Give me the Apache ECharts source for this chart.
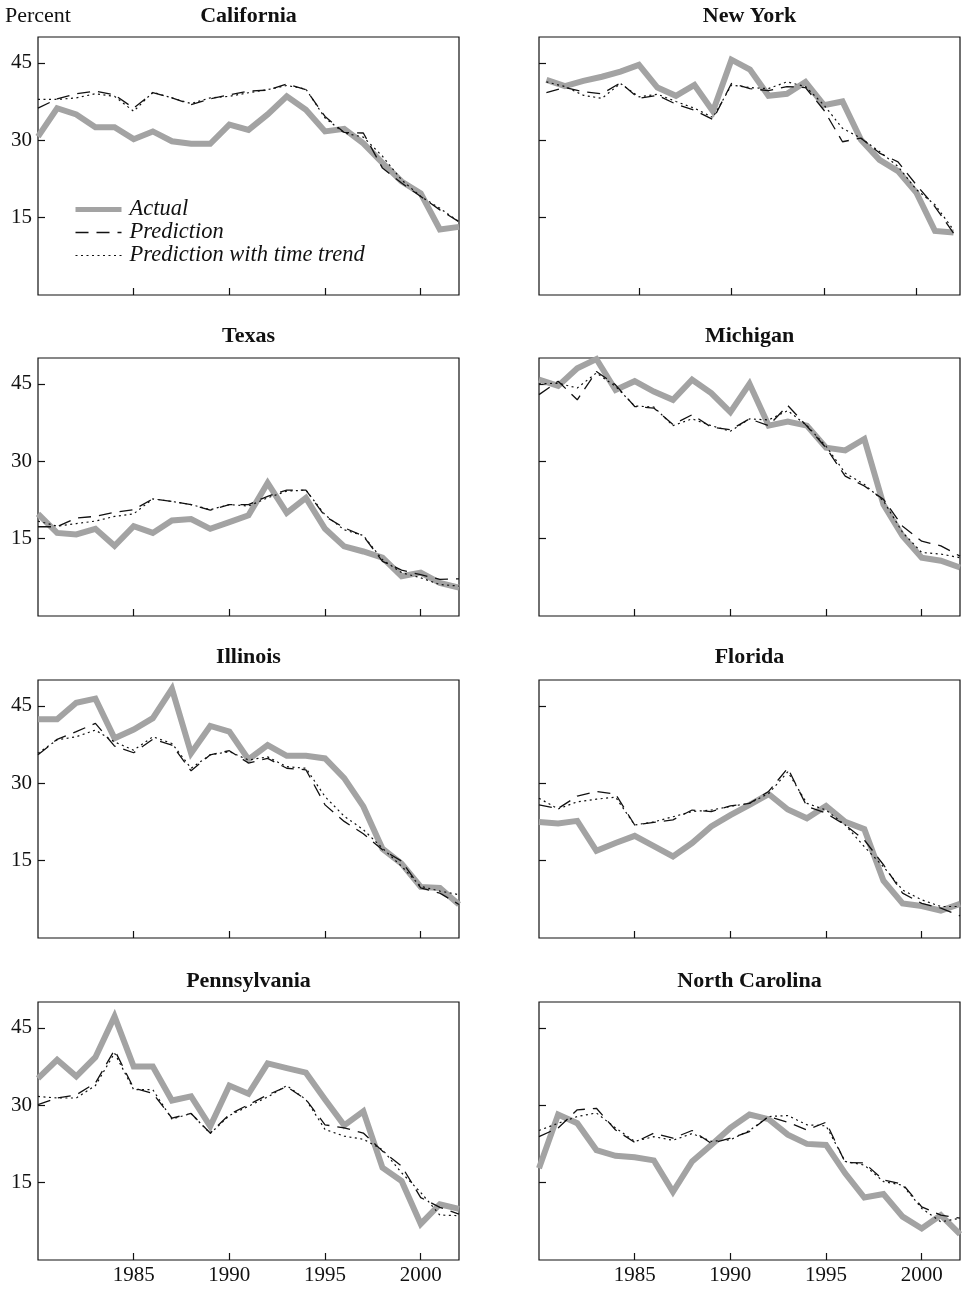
<!DOCTYPE html>
<html><head><meta charset="utf-8">
<script src="https://cdn.jsdelivr.net/npm/echarts@6/dist/echarts.min.js"></script>
<style>html,body{margin:0;padding:0;background:#fff}#c{width:962px;height:1294px}</style>
</head><body><div id="c"></div>
<script>
const years = [1980,1981,1982,1983,1984,1985,1986,1987,1988,1989,1990,1991,1992,1993,1994,1995,1996,1997,1998,1999,2000,2001,2002];
const yTicks = [15, 30, 45];
const xTicks = [1985, 1990, 1995, 2000];
const seriesNames = ['Actual', 'Prediction', 'Prediction with time trend'];
const states = ['California','New York','Texas','Michigan','Illinois','Florida','Pennsylvania','North Carolina'];

const californiaActual = [30.7,36.2,35.0,32.5,32.5,30.2,31.7,29.8,29.3,29.3,33.0,32.0,35.0,38.5,35.9,31.7,32.2,29.4,25.6,22.0,19.7,12.7,13.2];
const californiaPred   = [36.2,38.0,39.0,39.5,38.8,36.2,39.2,38.2,36.9,38.0,38.8,39.5,39.7,40.9,39.8,34.6,31.5,31.4,24.6,21.7,19.1,16.5,14.2];
const californiaTrend  = [37.9,37.9,38.2,39.0,38.5,35.6,39.3,38.2,37.1,38.2,38.5,39.2,39.8,40.6,39.9,34.3,31.4,30.6,26.9,22.3,19.1,16.8,14.2];

const newYorkActual = [41.7,40.5,41.5,42.3,43.3,44.6,40.2,38.6,40.7,35.6,45.6,43.7,38.6,39.0,41.3,36.8,37.5,30.1,26.2,24.0,19.8,12.4,12.1];
const newYorkPred   = [39.2,40.2,39.4,39.0,41.1,38.1,38.7,37.0,35.8,34.0,41.0,40.0,39.6,40.4,40.2,35.8,29.7,30.4,27.5,25.8,21.3,17.1,12.0];
const newYorkTrend  = [41.3,40.4,38.7,38.1,41.0,38.4,38.9,37.5,36.2,34.4,40.7,40.2,40.0,41.3,40.4,36.8,32.3,30.4,27.8,24.9,20.4,17.5,12.6];

const texasActual = [19.8,16.1,15.8,16.9,13.6,17.4,16.1,18.5,18.8,16.9,18.2,19.5,25.8,20.0,22.9,16.9,13.5,12.5,11.3,7.7,8.4,6.4,5.5];
const texasPred   = [17.3,17.3,19.0,19.3,20.1,20.6,22.7,22.2,21.6,20.5,21.6,21.6,23.2,24.4,24.4,19.3,17.1,15.5,10.6,8.9,8.0,7.1,7.2];
const texasTrend  = [18.4,17.4,17.9,18.4,19.3,19.8,22.7,22.2,21.6,20.6,21.6,21.3,22.9,24.2,24.4,19.6,16.7,15.6,10.9,8.4,7.4,6.1,5.8];

const michiganActual = [45.8,44.6,48.0,49.8,43.8,45.5,43.5,41.9,45.8,43.2,39.5,45.0,36.9,37.7,36.9,32.6,32.1,34.3,21.6,15.5,11.3,10.7,9.4];
const michiganPred   = [42.9,45.5,41.9,47.4,44.8,40.6,40.3,37.1,39.0,36.6,36.1,38.2,36.9,40.8,36.8,32.6,27.1,25.2,22.6,17.4,14.5,13.6,11.6];
const michiganTrend  = [45.0,45.1,44.2,47.1,44.5,40.7,40.5,36.9,38.2,36.9,35.8,38.2,38.0,39.8,36.9,32.9,27.7,25.5,22.3,16.2,12.3,12.0,11.3];

const illinoisActual = [42.4,42.4,45.6,46.4,38.7,40.4,42.6,48.3,35.8,41.1,40.0,34.6,37.4,35.3,35.3,34.8,31.0,25.5,17.3,14.4,9.9,9.7,6.5];
const illinoisPred   = [35.5,38.5,40.0,41.6,37.2,35.9,38.5,37.4,32.4,35.5,36.3,33.9,34.8,32.9,32.6,25.8,22.6,20.2,17.1,14.9,9.7,8.7,6.5];
const illinoisTrend  = [35.8,38.4,39.0,40.3,38.0,36.4,39.0,37.7,32.9,35.5,36.1,34.5,35.1,33.2,32.9,27.4,23.6,21.0,17.4,13.9,10.0,9.1,8.4];

const floridaActual = [22.5,22.2,22.7,16.9,18.4,19.8,17.8,15.8,18.4,21.6,23.8,25.8,27.9,24.9,23.2,25.6,22.5,21.1,11.1,6.7,6.2,5.3,6.6];
const floridaPred   = [25.8,25.1,27.5,28.4,27.9,21.9,22.4,22.9,24.8,24.5,25.6,26.1,28.4,32.9,25.5,24.2,21.9,19.0,14.2,8.7,6.7,5.8,4.3];
const floridaTrend  = [27.1,25.0,26.4,26.9,27.3,21.9,22.5,23.5,24.5,24.8,25.5,26.1,28.0,32.2,26.1,24.8,21.9,17.7,13.8,9.3,7.4,6.1,6.1];

const pennsylvaniaActual = [35.2,38.8,35.6,39.3,47.2,37.5,37.5,30.9,31.7,25.9,33.8,32.2,38.1,37.2,36.3,31.1,26.1,28.8,17.9,15.3,7.0,10.8,9.9];
const pennsylvaniaPred   = [30.1,31.4,32.0,34.3,40.7,33.3,32.3,27.5,28.4,24.6,28.2,30.1,32.0,33.6,31.1,26.2,25.6,24.6,21.1,18.2,12.1,10.2,8.9];
const pennsylvaniaTrend  = [31.7,31.4,31.4,33.8,40.1,33.0,33.0,27.3,28.4,24.5,28.0,29.8,31.6,33.8,31.1,25.3,24.0,23.4,21.4,16.9,13.1,8.7,8.6];

const northCarolinaActual = [17.8,28.2,26.5,21.3,20.2,19.9,19.3,13.2,19.1,22.3,25.6,28.2,27.3,24.3,22.5,22.3,16.8,12.1,12.8,8.4,6.1,8.7,5.0];
const northCarolinaPred   = [23.9,25.6,29.1,29.4,25.2,22.8,24.6,23.6,25.1,22.6,23.6,24.9,27.8,26.7,25.2,26.7,18.9,18.8,15.5,14.7,10.3,8.7,8.1];
const northCarolinaTrend  = [25.1,26.5,27.8,28.5,25.6,23.0,23.9,23.2,24.5,23.0,23.3,25.1,27.8,28.0,26.2,26.0,19.1,18.4,15.2,14.5,10.0,7.4,8.1];

const panelData = [
  [californiaActual, californiaPred, californiaTrend],
  [newYorkActual, newYorkPred, newYorkTrend],
  [texasActual, texasPred, texasTrend],
  [michiganActual, michiganPred, michiganTrend],
  [illinoisActual, illinoisPred, illinoisTrend],
  [floridaActual, floridaPred, floridaTrend],
  [pennsylvaniaActual, pennsylvaniaPred, pennsylvaniaTrend],
  [northCarolinaActual, northCarolinaPred, northCarolinaTrend]
];

const FONT = "'Liberation Serif','Times New Roman',serif";
const colLeft = [38, 539];
const rowTop = [37, 358, 680, 1002];
const gridW = 421, gridH = 258;
const titleTop = [5, 325, 646, 970];

const grids = [], xAxes = [], yAxes = [], titles = [], series = [];
states.forEach((name, i) => {
  const col = i % 2, row = Math.floor(i / 2);
  grids.push({left: colLeft[col], top: rowTop[row], width: gridW, height: gridH,
    show: true, borderColor: '#111', borderWidth: 1.2, backgroundColor: 'transparent'});
  const isNY = name === 'New York';
  xAxes.push({
    type: 'value', gridIndex: i,
    min: isNY ? 1979.6 : years[0], max: isNY ? 2002.35 : years[years.length - 1],
    interval: isNY ? undefined : 5,
    axisLine: {show: false},
    axisTick: {show: true, inside: true, length: 7, lineStyle: {color: '#111', width: 1.2},
      customValues: xTicks},
    splitLine: {show: false},
    axisLabel: {show: row === 3, customValues: xTicks, margin: 5,
      formatter: v => String(Math.round(v)),
      color: '#111', fontFamily: FONT, fontSize: 21}
  });
  yAxes.push({
    type: 'value', gridIndex: i, min: 0, max: 50,
    axisLine: {show: false},
    axisTick: {show: true, inside: true, length: 7, lineStyle: {color: '#111', width: 1.2},
      customValues: yTicks},
    splitLine: {show: false},
    axisLabel: {show: col === 0, customValues: yTicks, margin: 6,
      formatter: v => String(v),
      color: '#111', fontFamily: FONT, fontSize: 21}
  });
  titles.push({text: name, left: colLeft[col] + gridW / 2, top: titleTop[row], textAlign: 'center',
    padding: 0,
    textStyle: {fontFamily: FONT, fontWeight: 'bold', fontSize: 22, color: '#111'}});
  const [a, p, t] = panelData[i];
  const toPts = arr => years.map((y, k) => [y, arr[k]]);
  series.push({name: seriesNames[0], type: 'line', xAxisIndex: i, yAxisIndex: i, data: toPts(a),
    symbol: 'circle', showSymbol: false, silent: true, z: 2,
    lineStyle: {color: '#a3a3a3', width: 6, join: 'miter'}, itemStyle: {color: '#a3a3a3'}});
  series.push({name: seriesNames[1], type: 'line', xAxisIndex: i, yAxisIndex: i, data: toPts(p),
    symbol: 'circle', showSymbol: false, silent: true, z: 3,
    lineStyle: {color: '#111', width: 1.3, type: [13, 8]}, itemStyle: {color: '#111'}});
  series.push({name: seriesNames[2], type: 'line', xAxisIndex: i, yAxisIndex: i, data: toPts(t),
    symbol: 'circle', showSymbol: false, silent: true, z: 3,
    lineStyle: {color: '#111', width: 1.2, type: [2, 3.5]}, itemStyle: {color: '#111'}});
});
titles.push({text: 'Percent', left: 5, top: 5, padding: 0,
  textStyle: {fontFamily: FONT, fontWeight: 'normal', fontSize: 22, color: '#111'}});

const hidden = {color: 'rgba(0,0,0,0)', borderColor: 'rgba(0,0,0,0)', borderWidth: 0, opacity: 0};
const chart = echarts.init(document.getElementById('c'), null, {renderer: 'canvas'});
chart.setOption({
  animation: false,
  backgroundColor: '#fff',
  title: titles,
  grid: grids,
  xAxis: xAxes,
  yAxis: yAxes,
  legend: {
    orient: 'vertical', left: 68, top: 193, padding: 5, itemWidth: 46, itemHeight: 14, itemGap: 0,
    selectedMode: false,
    itemStyle: hidden,
    data: [
      {name: seriesNames[0], lineStyle: {width: 5}, itemStyle: hidden},
      {name: seriesNames[1], lineStyle: {width: 1.3}, itemStyle: hidden},
      {name: seriesNames[2], lineStyle: {width: 1.2}, itemStyle: hidden}
    ],
    textStyle: {fontFamily: FONT, fontStyle: 'italic', fontSize: 22.5, color: '#111', lineHeight: 22, padding: [0,0,0,3]}
  },
  series: series
});
</script></body></html>
